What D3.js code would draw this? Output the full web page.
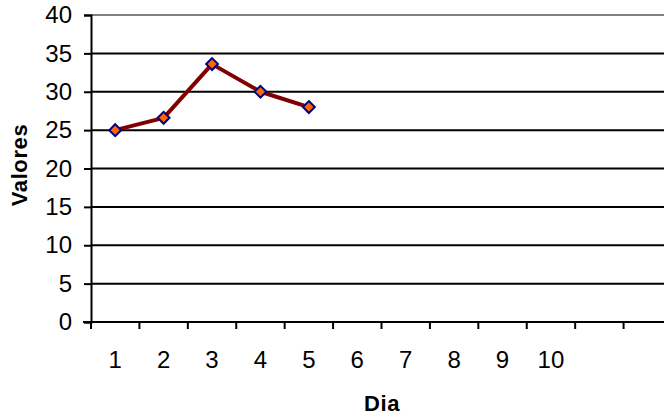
<!DOCTYPE html>
<html>
<head>
<meta charset="utf-8">
<script src="https://cdn.jsdelivr.net/npm/d3@7"></script>
<style>
  html, body { margin: 0; padding: 0; background: #fff; overflow: hidden; }
  svg { display: block; font-family: "Liberation Sans", Arial, sans-serif; }
  .lbl { font-size: 24px; fill: #000; }
  .ttl { font-size: 22px; font-weight: bold; fill: #000; letter-spacing: 0.6px; }
</style>
</head>
<body>
<svg id="chart" width="664" height="418"></svg>
<script>
// Category slots on the x axis (two trailing slots have no label)
const dias = ["1", "2", "3", "4", "5", "6", "7", "8", "9", "10", "", ""];
// Measured values for the first five days
const valores = [25, 26.6, 33.6, 30, 28];
// Y axis ticks
const yTicks = [0, 5, 10, 15, 20, 25, 30, 35, 40];

const svg = d3.select("#chart");
const plot = { left: 91, right: 672, top: 15, bottom: 322 };

const x = d3.scaleBand()
  .domain(d3.range(dias.length))
  .range([plot.left, plot.right])
  .paddingInner(0).paddingOuter(0);

const y = d3.scaleLinear().domain([0, 40]).range([plot.bottom, plot.top]);

// Horizontal gridlines
svg.append("g")
  .selectAll("line")
  .data(yTicks.filter(t => t > 0))
  .join("line")
  .attr("x1", plot.left).attr("x2", plot.right)
  .attr("y1", d => y(d)).attr("y2", d => y(d))
  .attr("stroke", d => d === 40 ? "#808080" : "#000")
  .attr("stroke-width", 2);

// Y axis
const yAxis = svg.append("g")
  .attr("transform", `translate(${plot.left},0)`)
  .call(d3.axisLeft(y).tickValues(yTicks).tickSize(7).tickPadding(12));
yAxis.attr("font-size", null).attr("font-family", null);
yAxis.select(".domain").attr("stroke", "#000").attr("stroke-width", 2);
yAxis.selectAll(".tick line").attr("stroke", "#000").attr("stroke-width", 2);
yAxis.selectAll(".tick text").attr("class", "lbl").attr("fill", null);

// X axis: ticks at band boundaries, labels centred in bands
const xAxisG = svg.append("g").attr("transform", `translate(0,${plot.bottom})`);
xAxisG.append("line")
  .attr("x1", plot.left - 8).attr("x2", plot.right)
  .attr("y1", 0).attr("y2", 0)
  .attr("stroke", "#000").attr("stroke-width", 2);
xAxisG.selectAll("line.tk")
  .data(d3.range(dias.length + 1))
  .join("line")
  .attr("class", "tk")
  .attr("x1", i => i < dias.length ? x(i) : plot.right)
  .attr("x2", i => i < dias.length ? x(i) : plot.right)
  .attr("y1", 0).attr("y2", 7)
  .attr("stroke", "#000").attr("stroke-width", 2);
xAxisG.selectAll("text")
  .data(dias)
  .join("text")
  .attr("class", "lbl")
  .attr("x", (d, i) => x(i) + x.bandwidth() / 2)
  .attr("y", 46)
  .attr("text-anchor", "middle")
  .text(d => d);

// Axis titles
svg.append("text")
  .attr("class", "ttl")
  .attr("transform", `translate(27,165) rotate(-90)`)
  .attr("text-anchor", "middle")
  .text("Valores");
svg.append("text")
  .attr("class", "ttl")
  .attr("x", 382).attr("y", 411)
  .attr("text-anchor", "middle")
  .text("Dia");

// Series line
const cx = (d, i) => x(i) + x.bandwidth() / 2;
const line = d3.line().x(cx).y(d => y(d));
svg.append("path")
  .datum(valores)
  .attr("d", line)
  .attr("fill", "none")
  .attr("stroke", "#800000")
  .attr("stroke-width", 4)
  .attr("stroke-linejoin", "round");

// Diamond markers
const diamond = d3.symbol().type(d3.symbolSquare).size(70);
svg.append("g")
  .selectAll("path")
  .data(valores)
  .join("path")
  .attr("d", diamond)
  .attr("transform", (d, i) => `translate(${cx(d, i)},${y(d)}) rotate(45)`)
  .attr("fill", "#FF6600")
  .attr("stroke", "#000080")
  .attr("stroke-width", 2);
</script>
</body>
</html>
